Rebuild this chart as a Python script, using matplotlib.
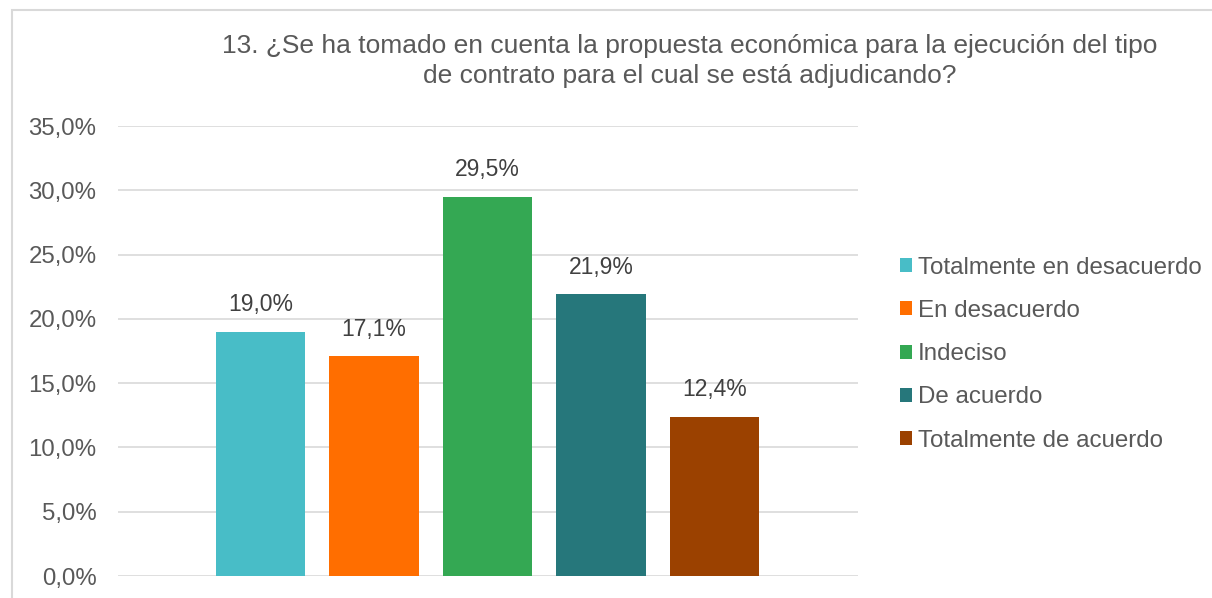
import matplotlib
matplotlib.use("Agg")
import matplotlib.pyplot as plt
from matplotlib.patches import Rectangle
from matplotlib.ticker import FuncFormatter

categories = ["Totalmente en desacuerdo", "En desacuerdo", "Indeciso", "De acuerdo", "Totalmente de acuerdo"]
values = [19.0, 17.1, 29.5, 21.9, 12.4]
colors = ["#48BDC7", "#FF6E00", "#34A853", "#26777B", "#9B4100"]
yticks = [0, 5, 10, 15, 20, 25, 30, 35]
title = "13. ¿Se ha tomado en cuenta la propuesta económica para la ejecución del tipo\nde contrato para el cual se está adjudicando?"

plt.rcParams['font.family'] = ['Liberation Sans', 'DejaVu Sans']
txt = "#595959"
W, H = 1212, 598
fig = plt.figure(figsize=(W / 100, H / 100), dpi=100)

# outer border
fig.patches.append(Rectangle((12 / W, -0.1), 1.2, (H - 10) / H + 0.1, transform=fig.transFigure,
                             fill=False, edgecolor="#D9D9D9", linewidth=1.5))

ax = fig.add_axes([118 / W, 22 / H, (858 - 118) / W, (576 - 126) / H])
x = list(range(len(values)))
bars = ax.bar(x, values, width=0.79, color=colors, label=categories, zorder=3)
ax.set_xlim(-1.255, 5.265)
ax.set_ylim(0, 35)
ax.set_yticks(yticks)
ax.yaxis.set_major_formatter(FuncFormatter(lambda v, p: f"{v:.1f}%".replace(".", ",")))
ax.grid(axis="y", color="#D9D9D9", linewidth=1.2, zorder=0)
for s in ax.spines.values():
    s.set_visible(False)
ax.set_xticks([])
ax.tick_params(axis="y", length=0, pad=15.5, labelsize=17.3, labelcolor=txt)

for b, v in zip(bars, values):
    ax.annotate(f"{v:.1f}%".replace(".", ","), (b.get_x() + b.get_width() / 2, v),
                xytext=(0, 11), textcoords="offset points", ha="center", va="bottom",
                fontsize=16.5, color="#404040")

fig.text(690 / W, 1 - 61 / H, title, ha="center", va="center", fontsize=19, color=txt,
         linespacing=1.3)

leg = fig.legend(handles=bars, labels=categories, loc="upper left",
                 bbox_to_anchor=(890 / W, 1 - 247 / H), frameon=False, fontsize=17.4,
                 handlelength=0.5, handleheight=0.5, handletextpad=0.25, labelspacing=0.88,
                 borderaxespad=0)
for t in leg.get_texts():
    t.set_color(txt)

fig.savefig("out.png", dpi=100)
